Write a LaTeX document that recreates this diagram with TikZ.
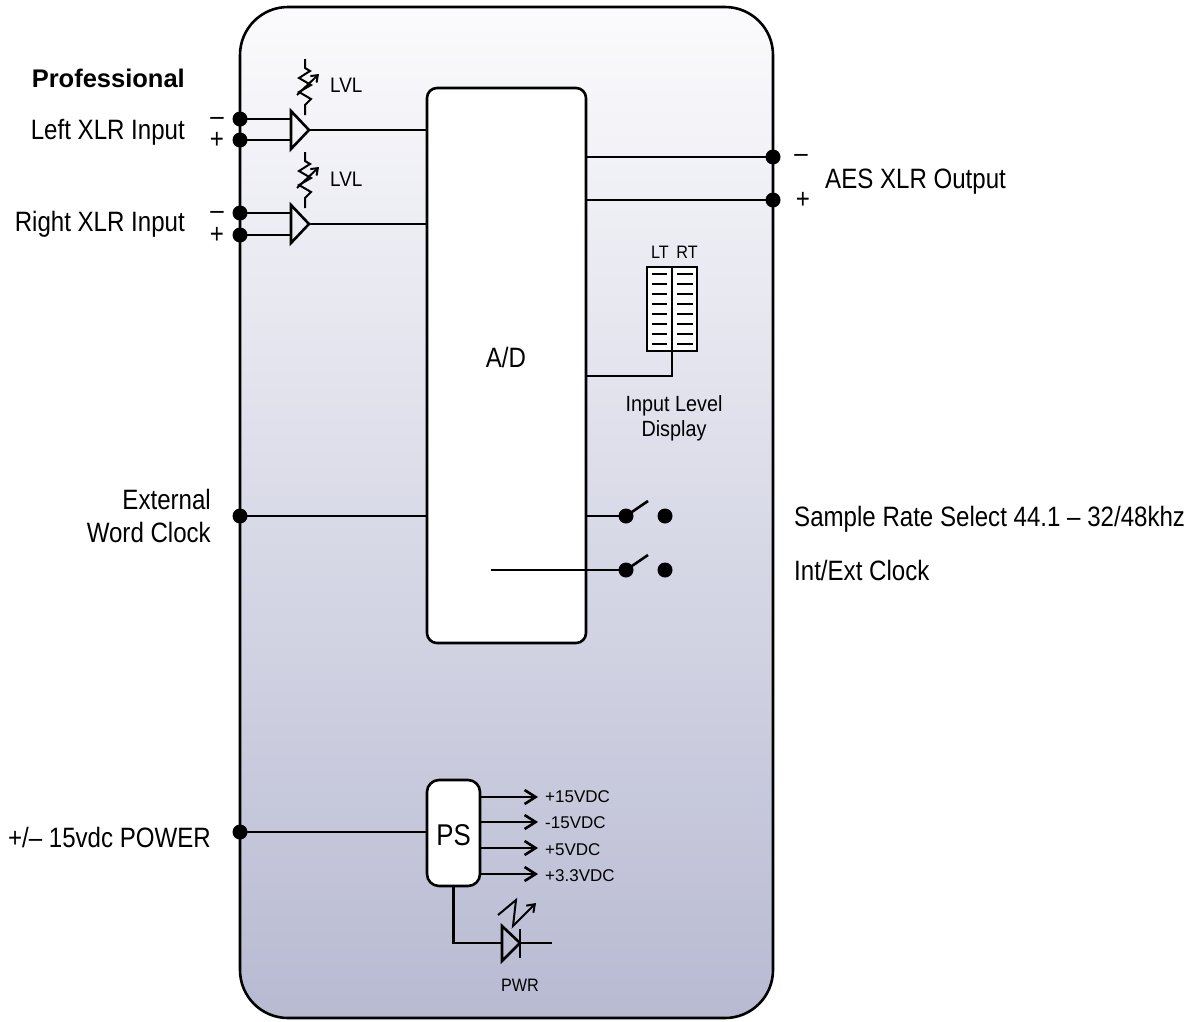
\documentclass[tikz,border=0pt]{standalone}
\usepackage{fontspec}
\setmainfont{Liberation Sans}[FakeStretch=0.86]
\newfontfamily\widefont{Liberation Sans}
\newfontfamily\midfont{Liberation Sans}[FakeStretch=0.9]
\usetikzlibrary{arrows.meta}
\definecolor{bgtop}{RGB}{251,251,253}
\definecolor{bgbot}{RGB}{184,186,210}
\begin{document}
\begin{tikzpicture}[x=1pt,y=-1pt,
  wire/.style={line width=2.6pt},
  thinw/.style={line width=2pt},
  dot/.style={circle, fill=black, inner sep=0pt, minimum size=15pt},
  big/.style={font=\fontsize{28}{32}\selectfont, inner sep=0pt},
  minus/.style={big, text height=9pt, text depth=0pt},
  plus/.style={big, text height=17pt, text depth=0pt},
  psl/.style={font=\fontsize{30}{34}\selectfont, inner sep=0pt},
  mid/.style={font=\midfont\fontsize{22}{26}\selectfont, inner sep=0pt},
  lvl/.style={font=\midfont\fontsize{21}{25}\selectfont, inner sep=0pt},
  tiny/.style={font=\midfont\fontsize{18}{22}\selectfont, inner sep=0pt},
  vdc/.style={font=\widefont\fontsize{17}{20}\selectfont, inner sep=0pt},
  prof/.style={font=\widefont\bfseries\fontsize{25.5}{30}\selectfont, inner sep=0pt},
  barb/.style={-{Straight Barb[length=11pt,width=14pt]}},
  pot/.pic={
    \draw[thinw] (0,0) -- (0,9) -- (5,12) -- (-6,19) -- (6,26) -- (-6,33) -- (6,40) -- (0,46) -- (0,56);
    \draw[thinw,-{Straight Barb[length=6pt,width=9pt]}] (-8,36) -- (14,15);
  }
]
\useasboundingbox (0,0) rectangle (1204,1021);

% outer enclosure
\path[top color=bgtop, bottom color=bgbot, rounded corners=48pt] (240,7) rectangle (773,1018);
\draw[wire, rounded corners=48pt] (240,7) rectangle (773,1018);

% A/D block
\node[draw, wire, fill=white, rounded corners=10pt, minimum width=159pt, minimum height=555pt, inner sep=0pt] (ad) at (506.5,365.5) {};
\node[big, anchor=base] (adt) at (506,367) {A/D};

% input labels
\node[prof, anchor=base east] (proft) at (185,87) {Professional};
\node[big, anchor=base east] (lxt) at (185,139) {Left XLR Input};
\node[big, anchor=base east] (rxt) at (185,231) {Right XLR Input};
\node[minus, anchor=base] (lm) at (217,125) {–};
\node[plus, anchor=base] (lp) at (217,148) {+};
\node[minus, anchor=base] (rm) at (217,219) {–};
\node[plus, anchor=base] (rp) at (217,243) {+};

% input dots
\node[dot] (li1) at (240,119) {};
\node[dot] (li2) at (240,140) {};
\node[dot] (ri1) at (240,213) {};
\node[dot] (ri2) at (240,235) {};

% amplifiers
\coordinate (a1t) at (309,130);
\coordinate (a2t) at (309,224);
\coordinate (a1w) at (291,130);
\coordinate (a2w) at (291,224);
\draw[wire, line join=miter] (291,111) -- (a1t) -- (291,149) -- cycle;
\draw[wire, line join=miter] (291,205) -- (a2t) -- (291,243) -- cycle;
\draw[wire] (li1.center) -- (li1.center -| a1w);
\draw[wire] (li2.center) -- (li2.center -| a1w);
\draw[wire] (ri1.center) -- (ri1.center -| a2w);
\draw[wire] (ri2.center) -- (ri2.center -| a2w);
\draw[wire] (a1t) -- (a1t -| ad.west);
\draw[wire] (a2t) -- (a2t -| ad.west);

% level pots
\pic at (305,59) {pot};
\pic at (305,152) {pot};
\node[lvl, anchor=base west] (lvl1) at (330,92) {LVL};
\node[lvl, anchor=base west] (lvl2) at (330,186) {LVL};

% AES output
\node[dot] (ao1) at (773,157) {};
\node[dot] (ao2) at (773,200) {};
\draw[wire] (ao1.center -| ad.east) -- (ao1.center);
\draw[wire] (ao2.center -| ad.east) -- (ao2.center);
\node[minus, anchor=base] (am) at (801,162) {–};
\node[plus, anchor=base] (ap) at (803,208) {+};
\node[big, anchor=base west] (aest) at (825,188) {AES XLR Output};

% level meter
\node[draw, wire, fill=white, minimum width=50pt, minimum height=84pt, inner sep=0pt] (meter) at (672,309) {};
\draw[wire] (meter.north) -- (meter.south);
\foreach \i in {0,...,7} {
  \draw[thinw] (652,274+10*\i) -- (667,274+10*\i);
  \draw[thinw] (677,274+10*\i) -- (693,274+10*\i);
}
\node[tiny, anchor=base] (ltt) at (660,258) {LT};
\node[tiny, anchor=base] (rtt) at (687,258) {RT};
\coordinate (mj) at (672,376);
\draw[wire] (meter.south) -- (mj) -- (mj -| ad.east);
\node[mid, anchor=base] (ild1) at (674,411) {Input Level};
\node[mid, anchor=base] (ild2) at (674,436) {Display};

% switches
\node[dot] (s1p) at (626,516) {};
\node[dot] (s1c) at (665,516) {};
\node[dot] (s2p) at (626,570) {};
\node[dot] (s2c) at (665,570) {};
\draw[wire] (s1p.center -| ad.east) -- (s1p.center);
\draw[wire] (s1p.center) -- (648,501);
\coordinate (s2s) at (491,570);
\draw[wire] (s2s) -- (s2p.center);
\draw[wire] (s2p.center) -- (648,555);
\node[big, anchor=base west] (srt) at (794,526) {Sample Rate Select 44.1 – 32/48khz};
\node[big, anchor=base west] (iet) at (794,580) {Int/Ext Clock};

% external word clock
\node[dot] (wc) at (240,516) {};
\draw[wire] (wc.center) -- (wc.center -| ad.west);
\node[big, anchor=base east] (ext1) at (211,509) {External};
\node[big, anchor=base east] (ext2) at (211,542) {Word Clock};

% power supply
\node[draw, wire, fill=white, rounded corners=12pt, minimum width=53pt, minimum height=106pt, inner sep=0pt] (ps) at (453.5,833) {};
\node[psl, anchor=base] (pst) at (453.5,845) {PS};
\node[dot] (pw) at (240,832) {};
\draw[wire] (pw.center) -- (pw.center -| ps.west);
\node[big, anchor=base east] (pwt) at (211,847) {+/– 15vdc POWER};

\coordinate (v1) at (538,797);
\coordinate (v2) at (538,822);
\coordinate (v3) at (538,848);
\coordinate (v4) at (538,874);
\draw[wire, barb] (v1 -| ps.east) -- (v1);
\draw[wire, barb] (v2 -| ps.east) -- (v2);
\draw[wire, barb] (v3 -| ps.east) -- (v3);
\draw[wire, barb] (v4 -| ps.east) -- (v4);
\node[vdc, anchor=base west] (v1t) at (545,802) {+15VDC};
\node[vdc, anchor=base west] (v2t) at (545,828) {-15VDC};
\node[vdc, anchor=base west] (v3t) at (545,855) {+5VDC};
\node[vdc, anchor=base west] (v4t) at (545,881) {+3.3VDC};

% PWR LED
\coordinate (dl) at (502,943);
\coordinate (dk) at (520,943);
\coordinate (de) at (552,943);
\draw[wire] (ps.south) -- (ps.south |- dl) -- (dl);
\draw[wire, line join=miter] (502,926) -- (dk) -- (502,961) -- cycle;
\draw[wire] (520,929) -- (520,958);
\draw[wire] (dk) -- (de);
\draw[thinw, line join=miter, -{Straight Barb[length=7pt,width=10pt]}] (498,915) -- (516,900) -- (513,926) -- (536,903);
\node[tiny, anchor=base] (pwrt) at (520,991) {PWR};
\end{tikzpicture}
\end{document}
